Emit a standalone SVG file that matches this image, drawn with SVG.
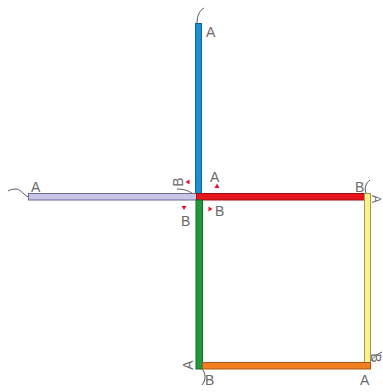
<svg xmlns="http://www.w3.org/2000/svg" width="383" height="392" viewBox="0 0 383 392">
<style>
.t{font-family:"Liberation Sans",Arial,sans-serif;font-size:14px;fill:#6a6a6a}
.c{fill:none;stroke:#555;stroke-width:1}
.m{fill:#e0142a}
.bar{stroke-width:1}
</style>
<rect width="383" height="392" fill="#fff"/>
<g id="connectors">
<path class="c" d="M197,24 C197,16 199,11 204,8"/>
<path class="c" d="M28,197 C22,193 20,189 16,189 C12,189 10,190 8,191"/>
<path class="c" d="M177,189 C184,189 191,191 195,196"/>
<path class="c" d="M366,193 C364,188 366,183 370,180"/>
<path class="c" d="M202,369 C206,373 206,380 202,385"/>
<path class="c" d="M370,362 C373,358 377,354 382,352"/>
</g>
<g id="bar-blue"><rect class="bar" x="195.5" y="23.5" width="6" height="171" fill="#1b8ed1" stroke="#14619a"/></g>
<g id="bar-lavender"><rect class="bar" x="28.5" y="193.5" width="168" height="6.5" fill="#c7c5e8" stroke="#6d6b8f"/></g>
<g id="bar-red"><rect class="bar" x="196.5" y="193.5" width="168" height="6.5" fill="#e8141c" stroke="#a00d12"/></g>
<g id="bar-green"><rect class="bar" x="196" y="200" width="6.5" height="169" fill="#1f9a3b" stroke="#136a27"/></g>
<g id="bar-yellow"><rect class="bar" x="364.5" y="193.5" width="6" height="172" fill="#fdf08a" stroke="#a09a50"/></g>
<g id="bar-orange"><rect class="bar" x="202.5" y="362.5" width="168" height="6.5" fill="#f28020" stroke="#a85812"/></g>
<g id="markers">
<polygon class="m" points="185.5,182 189.5,179.5 189.5,184.5"/>
<polygon class="m" points="217,183.5 214.5,188 219.5,188"/>
<polygon class="m" points="212.5,209 208.5,206.5 208.5,211.5"/>
<polygon class="m" points="184,210 181.5,206 186.5,206"/>
</g>
<g id="labels">
<text class="t" x="206" y="37">A</text>
<text class="t" x="31" y="192">A</text>
<text class="t" transform="translate(183,182) rotate(-90)" text-anchor="middle">B</text>
<text class="t" x="210" y="182">A</text>
<text class="t" x="215" y="216">B</text>
<text class="t" x="181" y="226">B</text>
<text class="t" x="355" y="192">B</text>
<text class="t" transform="translate(372,199) rotate(90)" text-anchor="middle" style="font-size:12px">A</text>
<text class="t" transform="translate(193,365) rotate(-90)" text-anchor="middle">A</text>
<text class="t" x="205" y="385">B</text>
<text class="t" transform="translate(371,358) rotate(90)" text-anchor="middle">B</text>
<text class="t" x="360" y="385">A</text>
</g>
</svg>
